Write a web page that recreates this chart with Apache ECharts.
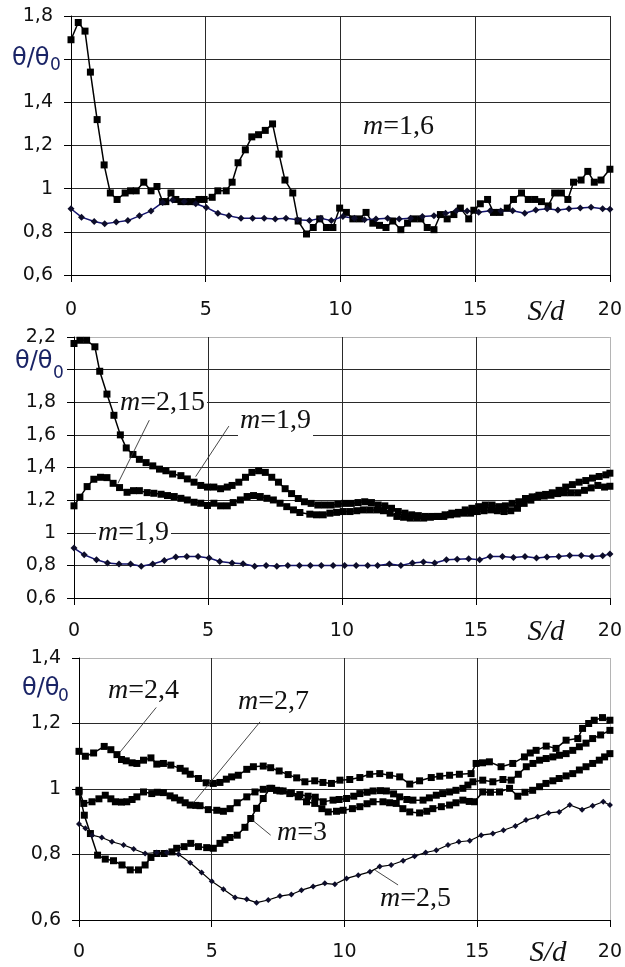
<!DOCTYPE html>
<html>
<head>
<meta charset="utf-8">
<script src="https://cdn.jsdelivr.net/npm/echarts@6/dist/echarts.min.js"></script>
<style>html,body{margin:0;padding:0;background:#fff}#c{width:625px;height:967px}</style>
</head>
<body>
<div id="c"></div>
<script>
// ---------- data (S/d, θ/θ0) ----------
const xTicks = [0, 5, 10, 15, 20];
const p1Hot = [[0,1.69],[0.27,1.77],[0.52,1.73],[0.72,1.54],[0.97,1.32],[1.23,1.11],[1.46,0.98],[1.71,0.95],[2.01,0.98],[2.21,0.99],[2.42,0.99],[2.70,1.03],[2.97,0.99],[3.19,1.01],[3.40,0.94],[3.52,0.94],[3.71,0.98],[3.89,0.95],[4.08,0.94],[4.26,0.94],[4.44,0.94],[4.63,0.94],[4.75,0.95],[4.94,0.95],[5.24,0.96],[5.45,0.99],[5.76,0.99],[5.98,1.03],[6.20,1.12],[6.47,1.18],[6.71,1.24],[6.96,1.25],[7.21,1.27],[7.48,1.30],[7.72,1.16],[7.94,1.04],[8.23,0.98],[8.43,0.85],[8.74,0.79],[8.99,0.82],[9.23,0.86],[9.48,0.82],[9.72,0.82],[9.97,0.91],[10.22,0.89],[10.46,0.86],[10.71,0.86],[10.95,0.89],[11.2,0.84],[11.45,0.83],[11.69,0.82],[11.94,0.85],[12.24,0.81],[12.49,0.84],[12.73,0.86],[12.98,0.86],[13.22,0.82],[13.47,0.81],[13.71,0.88],[13.96,0.86],[14.21,0.88],[14.45,0.91],[14.76,0.86],[14.95,0.90],[15.19,0.93],[15.46,0.95],[15.68,0.89],[15.92,0.89],[16.19,0.91],[16.42,0.95],[16.72,0.98],[16.97,0.95],[17.21,0.95],[17.46,0.94],[17.71,0.92],[17.95,0.98],[18.2,0.98],[18.44,0.95],[18.65,1.03],[18.93,1.04],[19.18,1.08],[19.42,1.03],[19.67,1.04],[20,1.09]];
const p1Cold = [[0,0.907],[0.39,0.868],[0.86,0.848],[1.25,0.837],[1.68,0.845],[2.11,0.852],[2.54,0.874],[2.97,0.897],[3.40,0.936],[3.77,0.948],[4.20,0.940],[4.63,0.930],[5.02,0.913],[5.45,0.886],[5.86,0.874],[6.31,0.863],[6.74,0.863],[7.17,0.863],[7.58,0.860],[7.98,0.863],[8.41,0.856],[8.85,0.852],[9.27,0.863],[9.66,0.852],[10.09,0.871],[10.52,0.863],[10.89,0.856],[11.32,0.859],[11.75,0.863],[12.18,0.860],[12.6,0.863],[13.04,0.871],[13.47,0.874],[13.9,0.886],[14.3,0.898],[14.7,0.897],[15.13,0.891],[15.56,0.898],[15.95,0.897],[16.39,0.898],[16.84,0.886],[17.25,0.901],[17.67,0.907],[18.07,0.901],[18.48,0.907],[18.9,0.910],[19.3,0.914],[19.73,0.907],[20,0.905]];
const p2Upper = [[0,2.16],[0.22,2.18],[0.47,2.18],[0.78,2.14],[0.96,1.99],[1.23,1.85],[1.49,1.72],[1.73,1.60],[1.95,1.52],[2.2,1.48],[2.44,1.45],[2.69,1.43],[2.94,1.41],[3.19,1.39],[3.43,1.38],[3.68,1.36],[3.99,1.35],[4.23,1.33],[4.48,1.31],[4.73,1.29],[4.98,1.28],[5.22,1.28],[5.47,1.27],[5.72,1.28],[5.9,1.29],[6.15,1.31],[6.4,1.34],[6.64,1.37],[6.89,1.38],[7.14,1.37],[7.38,1.34],[7.63,1.31],[7.88,1.27],[8.12,1.24],[8.37,1.21],[8.6,1.19],[8.85,1.18],[9.1,1.17],[9.35,1.17],[9.6,1.17],[9.85,1.175],[10.1,1.18],[10.35,1.18],[10.6,1.185],[10.85,1.19],[11.1,1.185],[11.35,1.17],[11.6,1.165],[11.85,1.15],[12.1,1.13],[12.35,1.12],[12.6,1.11],[12.85,1.105],[13.1,1.10],[13.35,1.10],[13.6,1.10],[13.85,1.11],[14.1,1.12],[14.35,1.125],[14.6,1.14],[14.85,1.15],[15.1,1.16],[15.35,1.17],[15.6,1.17],[15.85,1.16],[16.1,1.165],[16.35,1.18],[16.6,1.19],[16.85,1.21],[17.1,1.22],[17.35,1.23],[17.6,1.235],[17.85,1.245],[18.1,1.26],[18.35,1.28],[18.6,1.295],[18.85,1.31],[19.1,1.32],[19.35,1.335],[19.6,1.345],[19.85,1.355],[20,1.365]];
const p2Lower = [[0,1.165],[0.22,1.218],[0.49,1.283],[0.74,1.328],[0.99,1.34],[1.23,1.338],[1.46,1.303],[1.70,1.277],[1.98,1.248],[2.22,1.258],[2.44,1.258],[2.73,1.246],[2.98,1.242],[3.25,1.236],[3.49,1.228],[3.74,1.222],[3.99,1.211],[4.23,1.201],[4.48,1.187],[4.73,1.181],[4.98,1.167],[5.22,1.181],[5.47,1.165],[5.72,1.165],[5.94,1.185],[6.21,1.201],[6.46,1.222],[6.7,1.228],[6.95,1.222],[7.2,1.211],[7.44,1.201],[7.69,1.181],[7.94,1.16],[8.19,1.14],[8.43,1.124],[8.8,1.114],[9.05,1.11],[9.3,1.11],[9.55,1.12],[9.8,1.125],[10.05,1.13],[10.3,1.13],[10.55,1.135],[10.8,1.14],[11.05,1.14],[11.3,1.14],[11.55,1.135],[11.8,1.12],[12.05,1.10],[12.3,1.095],[12.55,1.09],[12.8,1.09],[13.05,1.09],[13.3,1.095],[13.55,1.10],[13.8,1.10],[14.05,1.11],[14.3,1.115],[14.55,1.12],[14.8,1.12],[15.05,1.13],[15.3,1.135],[15.55,1.14],[15.8,1.135],[16.05,1.13],[16.3,1.135],[16.55,1.15],[16.8,1.18],[17.05,1.20],[17.3,1.22],[17.55,1.225],[17.8,1.23],[18.05,1.24],[18.3,1.245],[18.55,1.245],[18.8,1.245],[19.05,1.26],[19.3,1.275],[19.55,1.29],[19.8,1.28],[20,1.285]];
const p2Cold = [[0,0.906],[0.38,0.865],[0.84,0.834],[1.25,0.814],[1.68,0.808],[2.11,0.808],[2.51,0.794],[2.94,0.808],[3.37,0.83],[3.8,0.851],[4.21,0.855],[4.63,0.855],[5.04,0.845],[5.44,0.824],[5.9,0.814],[6.31,0.81],[6.74,0.794],[7.17,0.8],[7.57,0.794],[7.98,0.8],[8.41,0.8],[8.82,0.8],[9.23,0.8],[9.67,0.8],[10.1,0.8],[10.53,0.8],[10.96,0.8],[11.33,0.8],[11.77,0.808],[12.2,0.8],[12.63,0.814],[13.04,0.82],[13.46,0.814],[13.9,0.834],[14.3,0.838],[14.73,0.84],[15.14,0.834],[15.53,0.855],[15.99,0.855],[16.4,0.849],[16.83,0.855],[17.26,0.845],[17.65,0.851],[18.09,0.855],[18.5,0.861],[18.93,0.861],[19.33,0.855],[19.73,0.859],[20,0.869]];
const p3m24 = [[0,1.115],[0.24,1.10],[0.55,1.11],[0.95,1.13],[1.2,1.12],[1.43,1.105],[1.6,1.09],[1.78,1.086],[2.0,1.08],[2.18,1.078],[2.43,1.088],[2.71,1.095],[2.93,1.076],[3.18,1.078],[3.46,1.073],[3.81,1.063],[4.0,1.055],[4.19,1.045],[4.5,1.032],[4.79,1.019],[5.06,1.017],[5.31,1.02],[5.55,1.03],[5.75,1.037],[6.0,1.042],[6.32,1.06],[6.57,1.068],[6.94,1.07],[7.22,1.065],[7.54,1.055],[7.88,1.044],[8.2,1.034],[8.51,1.022],[8.88,1.025],[9.19,1.02],[9.51,1.017],[9.83,1.027],[10.2,1.029],[10.58,1.035],[10.95,1.045],[11.33,1.047],[11.7,1.042],[12.08,1.037],[12.46,1.015],[12.83,1.025],[13.27,1.035],[13.59,1.039],[13.96,1.042],[14.33,1.045],[14.77,1.047],[14.96,1.078],[15.2,1.08],[15.46,1.083],[15.9,1.068],[16.34,1.078],[16.78,1.098],[17.0,1.11],[17.22,1.118],[17.6,1.131],[17.97,1.124],[18.35,1.149],[18.79,1.154],[18.97,1.185],[19.2,1.20],[19.41,1.21],[19.72,1.218],[20,1.21]];
const p3m27 = [[0,0.996],[0.18,0.956],[0.49,0.961],[0.75,0.97],[0.99,0.981],[1.2,0.97],[1.37,0.961],[1.6,0.96],[1.8,0.961],[2.0,0.968],[2.18,0.976],[2.43,0.991],[2.74,0.986],[2.95,0.99],[3.18,0.989],[3.43,0.979],[3.6,0.973],[3.81,0.966],[4.0,0.958],[4.19,0.951],[4.4,0.95],[4.56,0.949],[4.87,0.937],[5.19,0.935],[5.44,0.932],[5.69,0.94],[5.96,0.958],[6.32,0.976],[6.63,0.991],[6.94,0.999],[7.26,1.002],[7.57,0.994],[7.94,0.986],[8.26,0.976],[8.57,0.961],[8.88,0.956],[9.15,0.94],[9.39,0.930],[9.7,0.932],[9.95,0.935],[10.3,0.94],[10.58,0.946],[10.85,0.955],[11.08,0.961],[11.45,0.961],[11.7,0.958],[11.95,0.956],[12.2,0.94],[12.46,0.930],[12.83,0.927],[13.1,0.932],[13.33,0.94],[13.65,0.946],[13.96,0.951],[14.2,0.958],[14.46,0.966],[14.7,0.962],[14.9,0.961],[15.21,0.991],[15.5,0.99],[15.84,0.991],[16.22,1.002],[16.53,0.978],[16.8,0.99],[17.09,0.996],[17.35,1.007],[17.59,1.017],[17.85,1.025],[18.09,1.032],[18.35,1.04],[18.6,1.047],[18.85,1.058],[19.1,1.068],[19.35,1.078],[19.6,1.088],[19.8,1.098],[20,1.108]];
const p3m3 = [[0,0.991],[0.2,0.92],[0.43,0.864],[0.7,0.798],[0.99,0.786],[1.3,0.781],[1.62,0.768],[1.93,0.753],[2.24,0.753],[2.49,0.768],[2.71,0.791],[2.93,0.803],[3.21,0.803],[3.5,0.808],[3.68,0.819],[3.96,0.824],[4.21,0.834],[4.5,0.824],[4.81,0.821],[5.06,0.819],[5.31,0.834],[5.5,0.845],[5.69,0.852],[5.96,0.859],[6.25,0.883],[6.47,0.91],[6.69,0.941],[6.94,0.971],[7.19,1.002],[7.44,0.996],[7.69,0.994],[8.0,0.988],[8.32,0.983],[8.63,0.978],[8.9,0.975],[9.2,0.961],[9.57,0.966],[9.8,0.968],[10.08,0.971],[10.35,0.978],[10.58,0.986],[10.85,0.99],[11.08,0.994],[11.35,0.995],[11.58,0.994],[11.85,0.985],[12.08,0.976],[12.35,0.968],[12.58,0.966],[12.96,0.966],[13.2,0.973],[13.46,0.981],[13.7,0.986],[13.96,0.991],[14.2,0.996],[14.46,1.002],[14.65,1.012],[14.84,1.022],[15.21,1.027],[15.59,1.022],[15.97,1.029],[16.28,1.027],[16.55,1.045],[16.85,1.068],[17.1,1.078],[17.35,1.088],[17.6,1.093],[17.85,1.098],[18.1,1.103],[18.35,1.108],[18.6,1.118],[18.85,1.129],[19.1,1.14],[19.35,1.154],[19.65,1.165],[20,1.179]];
const p3m25 = [[0,0.893],[0.24,0.88],[0.49,0.859],[0.86,0.852],[1.24,0.839],[1.68,0.829],[2.06,0.817],[2.49,0.803],[2.93,0.806],[3.31,0.806],[3.75,0.801],[4.19,0.775],[4.62,0.745],[5.0,0.718],[5.44,0.694],[5.88,0.669],[6.32,0.663],[6.69,0.653],[7.13,0.661],[7.57,0.673],[8.0,0.678],[8.38,0.691],[8.82,0.702],[9.26,0.712],[9.64,0.709],[10.08,0.727],[10.52,0.737],[10.96,0.747],[11.33,0.763],[11.76,0.768],[12.21,0.781],[12.64,0.795],[13.06,0.806],[13.46,0.813],[13.9,0.829],[14.31,0.839],[14.72,0.842],[15.15,0.859],[15.59,0.864],[15.99,0.874],[16.44,0.887],[16.84,0.905],[17.28,0.915],[17.69,0.927],[18.09,0.93],[18.49,0.951],[18.95,0.937],[19.35,0.949],[19.75,0.961],[20,0.951]];
// leader lines [from(label end) , to(curve)] in data units
const p2Leaders = [[[2.81,1.69],[1.64,1.303]], [[5.78,1.654],[4.54,1.344]]];
const p3Leaders = [[[2.91,1.249],[1.55,1.113]], [[6.82,1.205],[4.31,0.958]], [[7.22,0.859],[6.53,0.905]], [[12.02,0.707],[11.16,0.752]]];

// ---------- styling ----------
const SANS = 'DejaVu Sans', SERIF = 'Liberation Serif';
const DARK = '#2a2a2a', LIGHT = '#b4b4b4';
function fmt(v){ const r = Math.round(v*10)/10; return Number.isInteger(r) ? String(r) : r.toFixed(1).replace('.', ','); }

const grids = [
  {left:71, top:16, width:543, height:259},
  {left:74, top:337, width:540, height:261},
  {left:79, top:658, width:532, height:262}
];
const yRanges = [[0.6,1.8,1.6],[0.6,2.2,2.0],[0.6,1.4,null]];
const xMargins = [26, 24, 23];
const lastGray = [false, true, true];

function xAxis(i){
  const cols = [DARK,DARK,DARK,DARK, lastGray[i]?LIGHT:DARK];
  return {type:'value', gridIndex:i, min:0, max:20, interval:5,
    axisLine:{show:true, onZero:false, lineStyle:{color:'#000', width:1}},
    axisTick:{show:true, length:7, lineStyle:{color:'#000'}},
    axisLabel:{fontFamily:SANS, fontSize:19, color:'#111', margin:xMargins[i]},
    splitLine:{show:true, lineStyle:{color:cols, width:1}}};
}
function yAxis(i){
  const [mn,mx,hide] = yRanges[i];
  const n = Math.round((mx-mn)/0.2)+1;
  const cols = []; for(let k=0;k<n;k++) cols.push(k===n-1 && lastGray[i] ? LIGHT : DARK);
  return {type:'value', gridIndex:i, min:mn, max:mx, interval:0.2,
    axisLine:{show:true, onZero:false, lineStyle:{color:'#000', width:1}},
    axisTick:{show:true, length:7, lineStyle:{color:'#000'}},
    axisLabel:{fontFamily:SANS, fontSize:19, color:'#111', margin:18,
      formatter: v => (hide!==null && Math.abs(v-hide)<1e-6) ? '' : fmt(v)},
    splitLine:{show:true, lineStyle:{color:cols, width:1}}};
}
function sq(data, i, extra){
  return Object.assign({type:'line', xAxisIndex:i, yAxisIndex:i, data, symbol:'rect', symbolSize:7,
    lineStyle:{color:'#000', width:1.5}, itemStyle:{color:'#000'}, z:3}, extra||{});
}
function dia(data, i, lineColor, extra){
  return Object.assign({type:'line', xAxisIndex:i, yAxisIndex:i, data, symbol:'diamond', symbolSize:7,
    lineStyle:{color:lineColor, width:1.5}, itemStyle:{color:'#0d0d2a'}, z:3}, extra||{});
}
function leaders(list){
  return {silent:true, symbol:'none', animation:false, label:{show:false},
    lineStyle:{color:'#333', width:0.9, type:'solid'},
    data: list.map(([a,b]) => [{coord:a},{coord:b}])};
}

function mtext(x, y, val, bg){
  return {type:'text', x, y, z:50,
    style:{text:'{i|m}{n|=' + val + '}', verticalAlign:'middle', textVerticalAlign:'middle', align:'left',
      backgroundColor: bg ? '#fff' : 'transparent', padding:[2,2,2,2],
      rich:{i:{fontFamily:SERIF, fontStyle:'italic', fontSize:28, fill:'#111'},
            n:{fontFamily:SERIF, fontSize:28, fill:'#111'}}}};
}
function theta(x, y, sx, sy){
  return [
    {type:'text', x, y, z:50, style:{text:'θ/θ', fontFamily:SANS, fontSize:24, fill:'#1a2466', verticalAlign:'middle', textVerticalAlign:'middle', align:'left'}},
    {type:'text', x:sx, y:sy, z:50, style:{text:'0', fontFamily:SANS, fontSize:17, fill:'#1a2466', verticalAlign:'middle', textVerticalAlign:'middle', align:'left'}}
  ];
}
function sd(cx, cy){
  return {type:'text', x:cx, y:cy, z:50, style:{text:'S/d', fontFamily:SERIF, fontStyle:'italic', fontSize:29, fill:'#111', align:'center', textAlign:'center', verticalAlign:'middle', textVerticalAlign:'middle'}};
}

const option = {
  animation:false,
  backgroundColor:'#fff',
  grid: grids,
  xAxis: [0,1,2].map(xAxis),
  yAxis: [0,1,2].map(yAxis),
  series: [
    sq(p1Hot, 0),
    dia(p1Cold, 0, '#14146e'),
    sq(p2Upper, 1),
    sq(p2Lower, 1, {markLine: leaders(p2Leaders)}),
    dia(p2Cold, 1, '#14146e'),
    sq(p3m24, 2),
    sq(p3m27, 2),
    sq(p3m3, 2),
    dia(p3m25, 2, '#000', {symbolSize:6, lineStyle:{color:'#000', width:1.2}, markLine: leaders(p3Leaders)})
  ],
  graphic: [
    ...theta(12, 59, 50, 66),
    ...theta(15, 362, 53, 374),
    ...theta(22, 689, 58, 697),
    sd(546, 312), sd(546, 632), sd(548, 953),
    mtext(361, 127, '1,6', false),
    mtext(118, 403, '2,15', true),
    mtext(238, 421, '1,9', true),
    mtext(96, 533, '1,9', true),
    mtext(106, 691, '2,4', false),
    mtext(236, 702, '2,7', false),
    mtext(275, 833, '3', false),
    mtext(378, 899, '2,5', false)
  ]
};
const chart = echarts.init(document.getElementById('c'), null, {renderer:'canvas'});
chart.setOption(option);
</script>
</body>
</html>
